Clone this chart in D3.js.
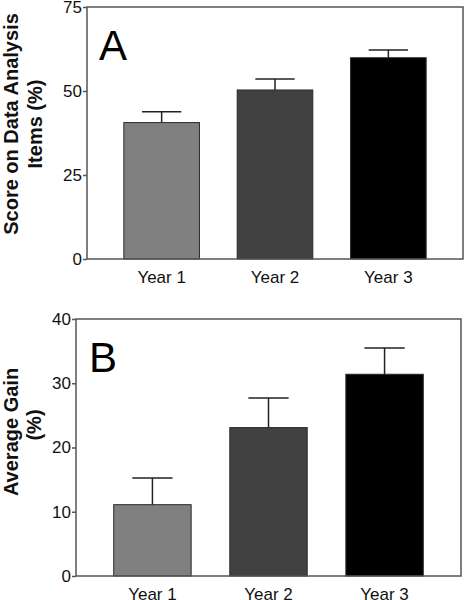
<!DOCTYPE html>
<html><head><meta charset="utf-8">
<script src="https://cdn.jsdelivr.net/npm/d3@7"></script>
<style>body{margin:0;background:#fff}svg{display:block}</style>
</head><body>
<script>
const categories = ["Year 1", "Year 2", "Year 3"];
const scoreValues = [40.6, 50.3, 59.9];
const scoreErrors = [3.2, 3.3, 2.3];
const gainValues = [11.1, 23.1, 31.4];
const gainErrors = [4.15, 4.6, 4.1];
const scoreTicks = [0, 25, 50, 75];
const gainTicks = [0, 10, 20, 30, 40];
const colors = ["#808080", "#414141", "#000000"];

const svg = d3.select("body").append("svg").attr("width", 466).attr("height", 600);
const font = "Liberation Sans, Arial, sans-serif";

function panel(o) {
  const g = svg.append("g");
  const x = d3.scaleBand().domain(categories).range([o.left, o.right]).paddingInner(0.333).paddingOuter(0.325);
  const y = d3.scaleLinear().domain([0, o.max]).range([o.bottom, o.top]);
  g.selectAll("rect.bar").data(o.values).enter().append("rect")
    .attr("x", (d, i) => x(categories[i]))
    .attr("width", x.bandwidth())
    .attr("y", d => y(d))
    .attr("height", d => y(0) - y(d))
    .attr("fill", (d, i) => colors[i])
    .attr("stroke", "#2a2a2a").attr("stroke-width", 1);
  const cap = x.bandwidth() * 0.26;
  o.values.forEach((v, i) => {
    const cx = x(categories[i]) + x.bandwidth() / 2;
    g.append("line").attr("x1", cx).attr("x2", cx).attr("y1", y(v)).attr("y2", y(v + o.errors[i]))
      .attr("stroke", "#222").attr("stroke-width", 1.5);
    g.append("line").attr("x1", cx - cap).attr("x2", cx + cap).attr("y1", y(v + o.errors[i])).attr("y2", y(v + o.errors[i]))
      .attr("stroke", "#222").attr("stroke-width", 1.5);
  });
  g.append("rect").attr("x", o.left).attr("y", o.top).attr("width", o.right - o.left).attr("height", o.bottom - o.top)
    .attr("fill", "none").attr("stroke", "#555").attr("stroke-width", 1.5);
  const ya = g.append("g").attr("transform", `translate(${o.left},0)`)
    .call(d3.axisLeft(y).tickValues(o.ticks).tickSize(4).tickPadding(1).tickFormat(d3.format("d")));
  ya.select(".domain").remove();
  ya.selectAll("line").attr("stroke", "#555").attr("stroke-width", 1.5);
  ya.selectAll("text").attr("font-family", font).attr("font-size", 17).attr("fill", "#111");
  const xa = g.append("g").attr("transform", `translate(0,${o.bottom})`)
    .call(d3.axisBottom(x).tickSize(0).tickPadding(12));
  xa.select(".domain").remove();
  xa.selectAll("text").attr("font-family", font).attr("font-size", 17).attr("fill", "#111");
  o.title.forEach((line, i) => {
    g.append("text").attr("transform", `translate(${o.titleX[i]},${o.titleY[i]}) rotate(-90)`)
      .attr("text-anchor", "middle").attr("font-family", font).attr("font-weight", "bold")
      .attr("font-size", 20).attr("fill", "#111").text(line);
  });
  g.append("text").attr("x", o.letterX).attr("y", o.letterY).attr("font-family", font).attr("font-size", 42).attr("fill", "#000").text(o.letter);
}

panel({left: 87, right: 463, top: 7, bottom: 259, max: 75, values: scoreValues, errors: scoreErrors, ticks: scoreTicks,
  title: ["Score on Data Analysis", "Items (%)"], titleX: [18, 42], titleY: [124, 124], letter: "A", letterX: 99, letterY: 60});
panel({left: 76, right: 461, top: 319, bottom: 576, max: 40, values: gainValues, errors: gainErrors, ticks: gainTicks,
  title: ["Average Gain", "(%)"], titleX: [17.5, 41], titleY: [432, 425], letter: "B", letterX: 89, letterY: 372});
</script>
</body></html>
